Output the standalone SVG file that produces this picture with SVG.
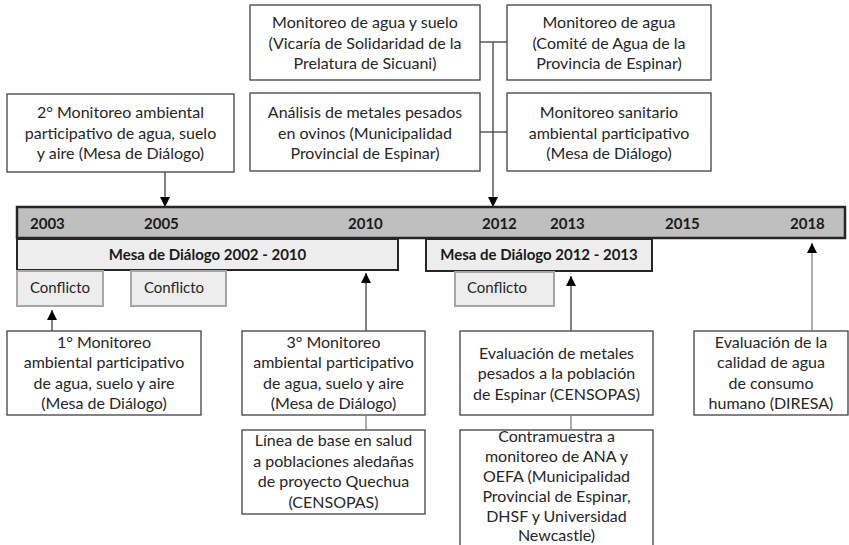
<svg xmlns="http://www.w3.org/2000/svg" width="849" height="545" viewBox="0 0 849 545">
<defs>
<style>
.bx{fill:#fff;stroke:#404040;stroke-width:1.3}
.t{font-family:Lato,"Open Sans","Liberation Sans",sans-serif;font-size:16px;fill:#262626;text-anchor:middle}
.b{font-family:Lato,"Open Sans","Liberation Sans",sans-serif;font-size:15px;font-weight:bold;fill:#1a1a1a}
.cf{fill:#ededed;stroke:#a6a6a6;stroke-width:2}
.cft{font-family:Lato,"Open Sans","Liberation Sans",sans-serif;font-size:15px;fill:#262626}
.ln{stroke:#404040;stroke-width:1.3;fill:none}
.lg{stroke:#808080;stroke-width:1.3;fill:none}
</style>
<marker id="ah" viewBox="0 0 10 10" refX="10" refY="5" markerWidth="10" markerHeight="10" markerUnits="userSpaceOnUse" orient="auto">
<path d="M0,0 L10,5 L0,10 z" fill="#000"/>
</marker>
</defs>
<rect width="849" height="545" fill="#fff"/>

<g id="timeline">
<rect x="17" y="207" width="828" height="31" fill="#bfbfbf" stroke="#262626" stroke-width="2.5"/>
<text class="b" x="30" y="229">2003</text>
<text class="b" x="144" y="229">2005</text>
<text class="b" x="348" y="229">2010</text>
<text class="b" x="482" y="229">2012</text>
<text class="b" x="550" y="229">2013</text>
<text class="b" x="665" y="229">2015</text>
<text class="b" x="790" y="229">2018</text>
</g>

<g id="mesa1">
<rect x="17" y="239" width="381" height="31" fill="#ededed" stroke="#262626" stroke-width="2"/>
<text class="b" x="207.5" y="260" text-anchor="middle">Mesa de Diálogo 2002 - 2010</text>
</g>
<g id="mesa2">
<rect x="426" y="239" width="226" height="32" fill="#ededed" stroke="#262626" stroke-width="2"/>
<text class="b" x="539" y="260" text-anchor="middle">Mesa de Diálogo 2012 - 2013</text>
</g>

<g id="conf1"><rect class="cf" x="17" y="271" width="86" height="35"/><text class="cft" x="30" y="293">Conflicto</text></g>
<g id="conf2"><rect class="cf" x="131" y="271" width="95" height="35"/><text class="cft" x="144" y="293">Conflicto</text></g>
<g id="conf3"><rect class="cf" x="455" y="272" width="99" height="34"/><text class="cft" x="467" y="293">Conflicto</text></g>

<g id="n2mon">
<rect class="bx" x="7" y="94" width="227" height="78"/>
<text class="t" x="120.5" y="118">2° Monitoreo ambiental</text>
<text class="t" x="120.5" y="138.5">participativo de agua, suelo</text>
<text class="t" x="120.5" y="159">y aire (Mesa de Diálogo)</text>
</g>

<g id="nVicaria">
<rect class="bx" x="250" y="5" width="230" height="75"/>
<text class="t" x="365" y="28">Monitoreo de agua y suelo</text>
<text class="t" x="365" y="48.5">(Vicaría de Solidaridad de la</text>
<text class="t" x="365" y="69">Prelatura de Sicuani)</text>
</g>
<g id="nComite">
<rect class="bx" x="507" y="5" width="204" height="75"/>
<text class="t" x="609" y="28">Monitoreo de agua</text>
<text class="t" x="609" y="48.5">(Comité de Agua de la</text>
<text class="t" x="609" y="69">Provincia de Espinar)</text>
</g>
<g id="nAnalisis">
<rect class="bx" x="250" y="93" width="230" height="78"/>
<text class="t" x="365" y="118">Análisis de metales pesados</text>
<text class="t" x="365" y="138.5">en ovinos (Municipalidad</text>
<text class="t" x="365" y="159">Provincial de Espinar)</text>
</g>
<g id="nSanitario">
<rect class="bx" x="507" y="93" width="204" height="78"/>
<text class="t" x="609" y="118">Monitoreo sanitario</text>
<text class="t" x="609" y="138.5">ambiental participativo</text>
<text class="t" x="609" y="159">(Mesa de Diálogo)</text>
</g>

<g id="n1mon">
<rect class="bx" x="7" y="331" width="194" height="84"/>
<text class="t" x="104" y="347.5">1° Monitoreo</text>
<text class="t" x="104" y="368">ambiental participativo</text>
<text class="t" x="104" y="388.5">de agua, suelo y aire</text>
<text class="t" x="104" y="409">(Mesa de Diálogo)</text>
</g>
<g id="n3mon">
<rect class="bx" x="242" y="331" width="183" height="84"/>
<text class="t" x="333.5" y="347.5">3° Monitoreo</text>
<text class="t" x="333.5" y="368">ambiental participativo</text>
<text class="t" x="333.5" y="388.5">de agua, suelo y aire</text>
<text class="t" x="333.5" y="409">(Mesa de Diálogo)</text>
</g>
<g id="nLinea">
<rect class="bx" x="242" y="430" width="183" height="84"/>
<text class="t" x="333.5" y="446">Línea de base en salud</text>
<text class="t" x="333.5" y="466.5">a poblaciones aledañas</text>
<text class="t" x="333.5" y="487">de proyecto Quechua</text>
<text class="t" x="333.5" y="507.5">(CENSOPAS)</text>
</g>
<g id="nMetales">
<rect class="bx" x="460" y="331" width="193" height="84"/>
<text class="t" x="556.5" y="358.5">Evaluación de metales</text>
<text class="t" x="556.5" y="379">pesados a la población</text>
<text class="t" x="556.5" y="399.5">de Espinar (CENSOPAS)</text>
</g>
<g id="nContra">
<rect class="bx" x="460" y="430" width="193" height="130"/>
<text class="t" x="556.5" y="441.5">Contramuestra a</text>
<text class="t" x="556.5" y="461.5">monitoreo de ANA y</text>
<text class="t" x="556.5" y="481.5">OEFA (Municipalidad</text>
<text class="t" x="556.5" y="501.5">Provincial de Espinar,</text>
<text class="t" x="556.5" y="521.5">DHSF y Universidad</text>
<text class="t" x="556.5" y="541">Newcastle)</text>
</g>
<g id="nCalidad">
<rect class="bx" x="694" y="331" width="154" height="84"/>
<text class="t" x="771" y="347.5">Evaluación de la</text>
<text class="t" x="771" y="368">calidad de agua</text>
<text class="t" x="771" y="388.5">de consumo</text>
<text class="t" x="771" y="409">humano (DIRESA)</text>
</g>

<g id="connectors">
<line class="ln" x1="165" y1="172" x2="165" y2="207" marker-end="url(#ah)"/>
<line class="ln" x1="480" y1="42" x2="507" y2="42"/>
<line class="ln" x1="480" y1="132" x2="507" y2="132"/>
<line class="ln" x1="493" y1="42" x2="493" y2="207" marker-end="url(#ah)"/>
<line class="ln" x1="52" y1="331" x2="52" y2="310" marker-end="url(#ah)"/>
<line class="ln" x1="366" y1="331" x2="366" y2="273" marker-end="url(#ah)"/>
<line class="ln" x1="571" y1="331" x2="571" y2="276" marker-end="url(#ah)"/>
<line class="lg" x1="812" y1="331" x2="812" y2="243" marker-end="url(#ah)"/>
<line class="lg" x1="366" y1="415" x2="366" y2="430"/>
<line class="lg" x1="571" y1="415" x2="571" y2="430"/>
</g>
</svg>
